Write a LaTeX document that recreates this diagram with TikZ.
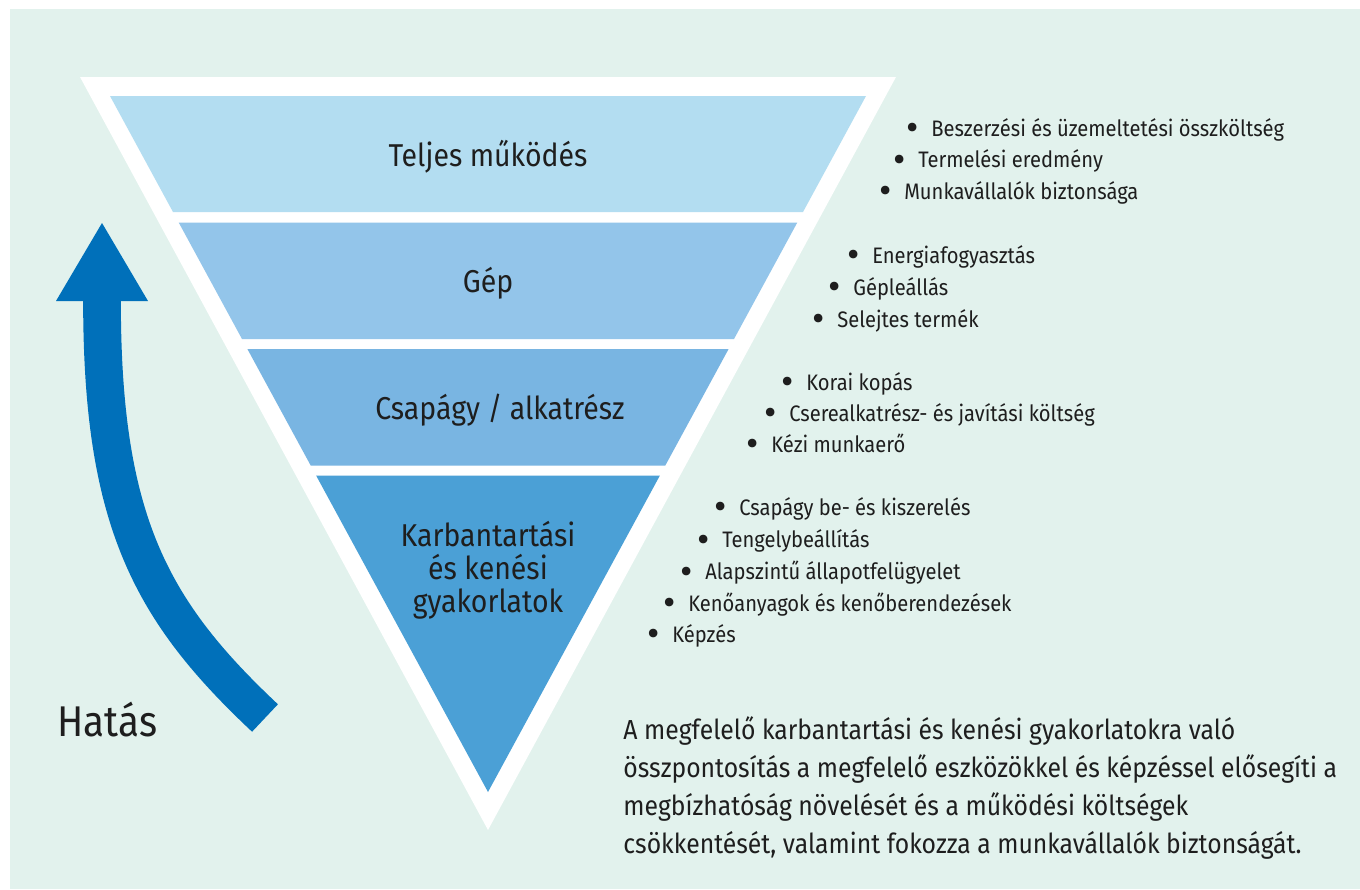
\documentclass[tikz,border=0pt]{standalone}
\usepackage{fontspec}
\setmainfont[FakeStretch=0.9]{Fira Sans}
\newfontfamily\pontbetu{Fira Sans}
\definecolor{hatter}{HTML}{E2F2ED}
\definecolor{savA}{HTML}{B3DDF1}
\definecolor{savB}{HTML}{93C5EA}
\definecolor{savC}{HTML}{79B5E2}
\definecolor{savD}{HTML}{4BA0D6}
\definecolor{nyilkek}{HTML}{0070BA}
\definecolor{szoveg}{HTML}{1E1E1E}
\newcommand{\elem}[1]{\makebox[12.2pt][l]{\raisebox{-2.3pt}{\pontbetu\fontsize{19}{19}\selectfont\textbullet}}#1}
\tikzset{
  savcim/.style={inner sep=0pt, align=center, text=szoveg,
    font=\fontsize{15.8}{16.5}\selectfont},
  pont/.style={anchor=base west, inner sep=0pt, text=szoveg,
    font=\fontsize{11.2}{13}\selectfont},
}
\begin{document}
\begin{tikzpicture}[x=0.5pt,y=-0.5pt]
  \useasboundingbox (0,0) rectangle (1360,889);
  \fill[white] (0,0) rectangle (1360,889);
  \fill[hatter] (10,9) rectangle (1360,889);
  \fill[white] (80,77) -- (896,77) -- (488,830) -- cycle;
  % a piramis savjai
  \fill[savA] (110,96) -- (866,96) -- (803,212) -- (173,212) -- cycle;
  \fill[savB] (178.7,222.5) -- (797.3,222.5) -- (734,339) -- (242,339) -- cycle;
  \fill[savC] (247.4,349) -- (728.6,349) -- (665.3,465.5) -- (310.7,465.5) -- cycle;
  \fill[savD] (316.1,475.5) -- (659.9,475.5) -- (488,792) -- cycle;
  \node[savcim] (teljes) at (488,157) {Teljes működés};
  \node[savcim] (gep) at (488,283) {Gép};
  \node[savcim] (csapagy) at (500,410) {Csapágy / alkatrész};
  \node[savcim] (karbantartas) at (488,570) {Karbantartási\\és kenési\\gyakorlatok};
  % hatas nyil
  \draw[nyilkek, line width=18.85pt] (102,301) .. controls (102,520) and (150,610) .. (265,718);
  \fill[nyilkek] (56,301) -- (148,301) -- (102,223) -- cycle;
  \node[anchor=base west, inner sep=0pt, text=szoveg,
    font=\fontsize{21.5}{21.5}\selectfont] (hatas) at (57,736) {Hatás};
  % felsorolasok
  \node[pont] (t1) at (906.5,136) {\elem{Beszerzési és üzemeltetési összköltség}};
  \node[pont] (t2) at (893.5,167.5) {\elem{Termelési eredmény}};
  \node[pont] (t3) at (879.5,199) {\elem{Munkavállalók biztonsága}};
  \node[pont] (g1) at (847.5,263) {\elem{Energiafogyasztás}};
  \node[pont] (g2) at (828.5,295) {\elem{Gépleállás}};
  \node[pont] (g3) at (812.5,327) {\elem{Selejtes termék}};
  \node[pont] (c1) at (781.5,390) {\elem{Korai kopás}};
  \node[pont] (c2) at (764.5,421) {\elem{Cserealkatrész- és javítási költség}};
  \node[pont] (c3) at (746.5,452) {\elem{Kézi munkaerő}};
  \node[pont] (k1) at (714.5,515) {\elem{Csapágy be- és kiszerelés}};
  \node[pont] (k2) at (697.5,547.5) {\elem{Tengelybeállítás}};
  \node[pont] (k3) at (680.5,579.5) {\elem{Alapszintű állapotfelügyelet}};
  \node[pont] (k4) at (663.5,611) {\elem{Kenőanyagok és kenőberendezések}};
  \node[pont] (k5) at (647.5,642) {\elem{Képzés}};
  \node[anchor=north west, inner sep=0pt, align=left, text=szoveg,
    font=\fontsize{13.75}{19}\selectfont] (leiras) at (623,716)
    {A megfelelő karbantartási és kenési gyakorlatokra való\\
     összpontosítás a megfelelő eszközökkel és képzéssel elősegíti a\\
     megbízhatóság növelését és a működési költségek\\
     csökkentését, valamint fokozza a munkavállalók biztonságát.};
\end{tikzpicture}
\end{document}
